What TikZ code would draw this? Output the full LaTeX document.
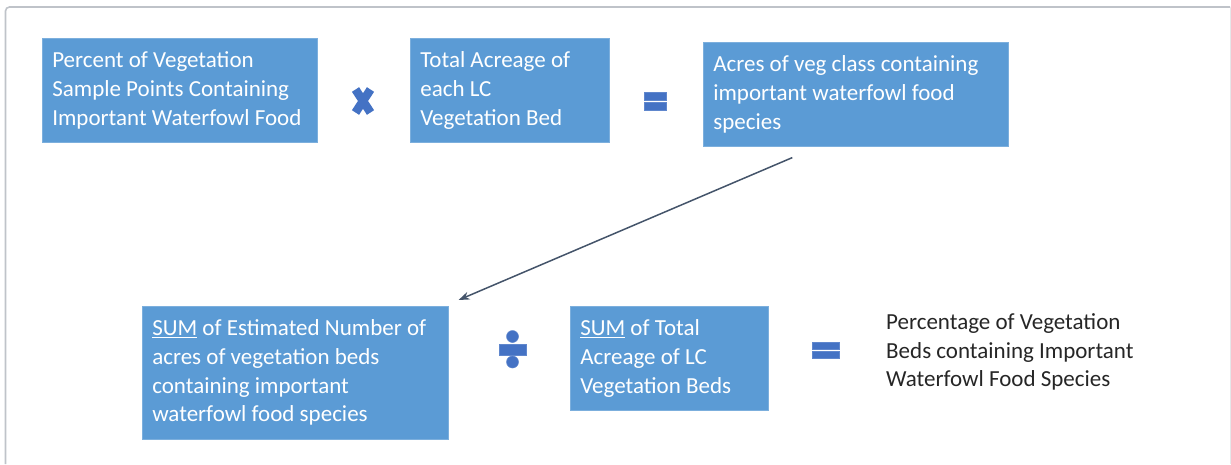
\documentclass[tikz,border=0pt]{standalone}
\usepackage{fontspec}
\setmainfont{Carlito}
\usetikzlibrary{arrows.meta}

\definecolor{boxblue}{HTML}{5B9BD5}
\definecolor{signblue}{HTML}{4472C4}
\definecolor{arrowgray}{HTML}{44546A}
\definecolor{framegray}{HTML}{BFC3C9}

\tikzset{
    calcbox/.style={fill=boxblue, draw=boxblue!80!white, line width=0.6pt, text=white,
        anchor=north west, align=flush left, inner xsep=10pt, inner ysep=0pt,
        font=\fontsize{23}{28.7}\selectfont},
    sign/.style={fill=signblue, draw=signblue!85!white, line width=0.5pt}
}

\begin{document}
\begin{tikzpicture}[x=1pt, y=-1pt]
    \useasboundingbox (0,0) rectangle (1231,464);

    % Frame
    \draw[framegray, line width=1.6pt, rounded corners=4pt] (5.5,464) -- (5.5,7) -- (1230,7);
    \draw[framegray!40, line width=0.8pt] (1230,7) -- (1230,464);

    % Top row
    \node[calcbox, text width=255pt, minimum height=104pt] (pctveg) at (42,38)
        {Percent of Vegetation\\Sample Points Containing\\Important Waterfowl Food};
    \node[calcbox, text width=179pt, minimum height=104pt] (lcacre) at (410,38)
        {Total Acreage of\\each LC\\Vegetation Bed};
    \node[calcbox, text width=285pt, minimum height=104pt] (vegacres) at (703,42)
        {Acres of veg class containing\\important waterfowl food\\species};

    % Times and equals
    \draw[signblue, line width=8.5pt] (355.5,89.5) -- (370.5,112.5) (370.5,89.5) -- (355.5,112.5);
    \fill[sign] (644,92) rectangle (666,100) (644,102) rectangle (666,110);

    % Bottom row
    \node[calcbox, text width=286pt, minimum height=133pt] (sumveg) at (142,306)
        {\underline{SUM} of Estimated Number of\\acres of vegetation beds\\containing important\\waterfowl food species};
    \node[calcbox, text width=178pt, minimum height=104pt] (sumlc) at (570,306)
        {\underline{SUM} of Total\\Acreage of LC\\Vegetation Beds};
    \node[anchor=west, align=flush left, inner xsep=10pt, text=black!85,
        font=\fontsize{23}{28.7}\selectfont] (result) at (876,352)
        {Percentage of Vegetation\\Beds containing Important\\Waterfowl Food Species};

    % Divide and equals
    \fill[sign] (512.5,336.5) circle (6) (512.5,362) circle (6);
    \fill[sign] (499,344) rectangle (526,355.5);
    \fill[sign] (812,342) rectangle (839,349) (812,351) rectangle (839,358);

    % Arrow from top row to bottom row
    \coordinate (arrstart) at ([shift={(-63.5pt,-11pt)}]vegacres.south);
    \coordinate (arrend) at ([shift={(10pt,6pt)}]sumveg.north east);
    \draw[arrowgray, line width=1.5pt, -{Stealth[length=11pt, width=8pt]}] (arrstart) -- (arrend);
\end{tikzpicture}
\end{document}
